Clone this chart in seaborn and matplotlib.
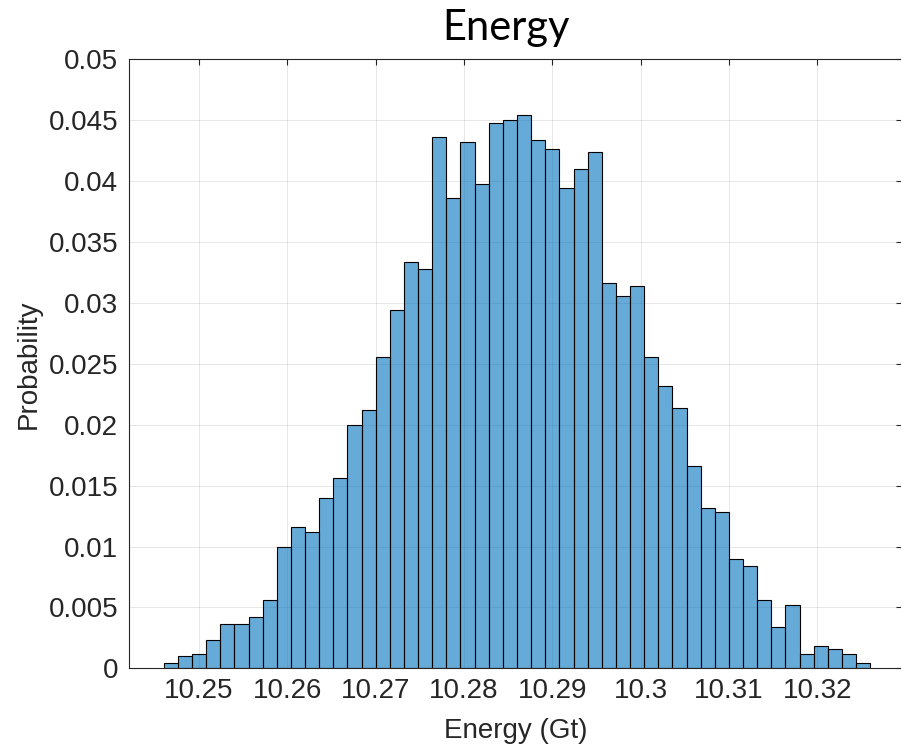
import numpy as np
import pandas as pd
import matplotlib
matplotlib.use("Agg")
import matplotlib.pyplot as plt
import seaborn as sns

# Histogram: 50 bins from 10.246 to 10.326
bin_lo = 10.246
bin_hi = 10.326
n_bins = 50
prob = [0.0004, 0.0010, 0.0012, 0.0023, 0.0036, 0.0036, 0.0042, 0.0056, 0.0100, 0.0116,
        0.0112, 0.0140, 0.0156, 0.0200, 0.0212, 0.0256, 0.0294, 0.0334, 0.0328, 0.0436,
        0.0386, 0.0432, 0.0398, 0.0448, 0.0450, 0.0454, 0.0434, 0.0426, 0.0394, 0.0410,
        0.0424, 0.0316, 0.0306, 0.0314, 0.0256, 0.0232, 0.0214, 0.0166, 0.0132, 0.0128,
        0.0090, 0.0084, 0.0056, 0.0034, 0.0052, 0.0012, 0.0018, 0.0016, 0.0012, 0.0004]

x_ticks = [10.25, 10.26, 10.27, 10.28, 10.29, 10.30, 10.31, 10.32]
x_ticklabels = ['10.25', '10.26', '10.27', '10.28', '10.29', '10.3', '10.31', '10.32']
y_ticks = [0, 0.005, 0.01, 0.015, 0.02, 0.025, 0.03, 0.035, 0.04, 0.045, 0.05]
y_ticklabels = ['0', '0.005', '0.01', '0.015', '0.02', '0.025', '0.03', '0.035', '0.04', '0.045', '0.05']

sns.set_style('white')
plt.rcParams['font.family'] = ['Liberation Sans', 'DejaVu Sans']

edges = np.linspace(bin_lo, bin_hi, n_bins + 1)
df = pd.DataFrame({'energy': (edges[:-1] + edges[1:]) / 2, 'prob': prob})

fig = plt.figure(figsize=(9.01, 7.5), dpi=100)
# right edge of the box sits just past the image border, as in the reference crop
ax = fig.add_axes([0.1435, 0.1089, 0.8576, 0.812])

sns.histplot(data=df, x='energy', weights='prob', bins=n_bins, binrange=(bin_lo, bin_hi),
             stat='count', color='#0072BD', alpha=0.6, edgecolor='black',
             linewidth=0.8, ax=ax)

ax.set_xlim(10.2421, 10.32959)
ax.set_ylim(0, 0.05)
ax.set_xticks(x_ticks)
ax.set_xticklabels(x_ticklabels)
ax.set_yticks(y_ticks)
ax.set_yticklabels(y_ticklabels)

ax.set_axisbelow(True)
ax.grid(True, color='#262626', alpha=0.13, linewidth=0.6)

for s in ax.spines.values():
    s.set_color('#262626')
    s.set_linewidth(0.8)

ax.tick_params(axis='both', direction='in', length=4.5, width=0.8, color='#262626',
               labelsize=20, labelcolor='#262626', top=True, right=True)
ax.tick_params(axis='x', pad=7)
ax.tick_params(axis='y', pad=8)

ax.set_xlabel('Energy (Gt)', fontsize=20, color='#262626')
ax.set_ylabel('Probability', fontsize=20, color='#262626')
ax.xaxis.set_label_coords(0.5, -0.082)
ax.yaxis.set_label_coords(-0.113, 0.5)

fig.text(0.5614, 1 - 40 / 750, 'Energy', fontsize=30, family=['Lato', 'DejaVu Sans'],
         color='black', ha='center', va='baseline')

fig.savefig('out.png', dpi=100)
